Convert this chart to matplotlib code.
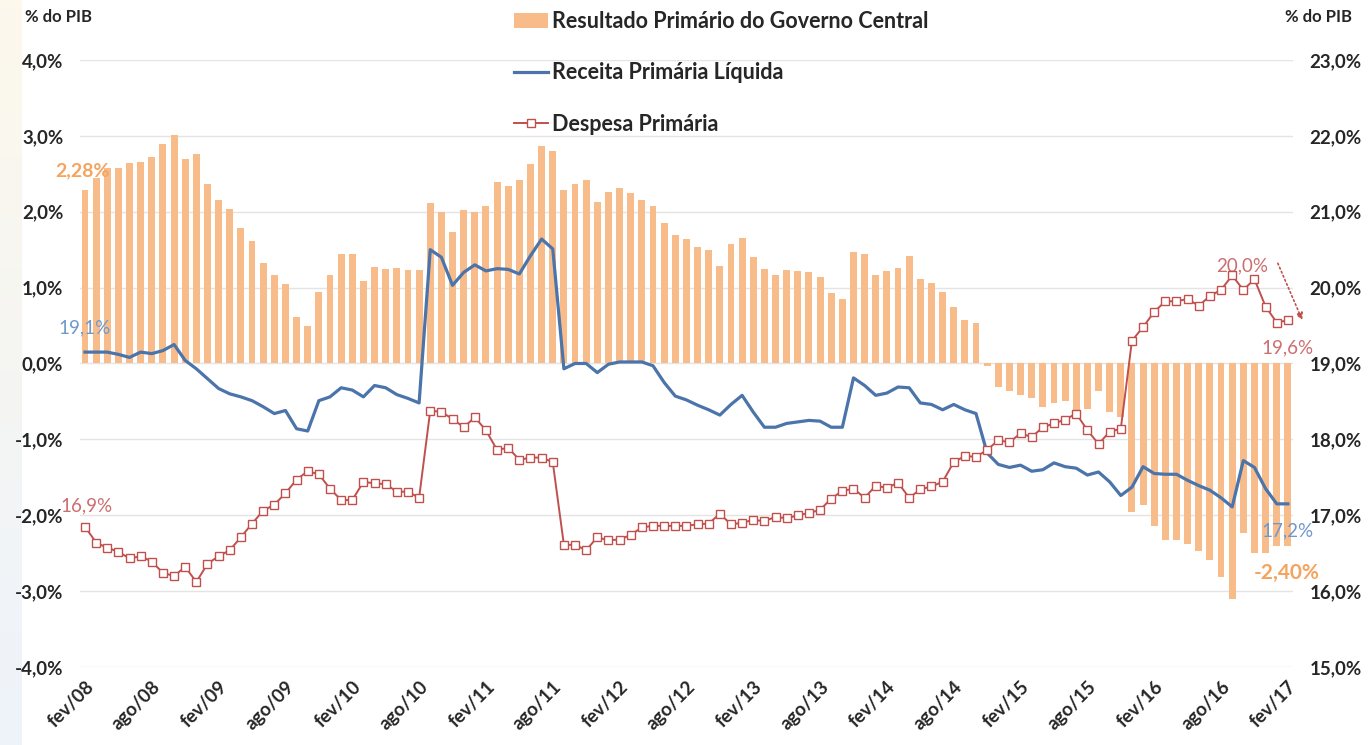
import matplotlib
matplotlib.use('Agg')
import matplotlib.pyplot as plt
import numpy as np

plt.rcParams['font.family'] = ['Lato', 'DejaVu Sans']

# monthly, fev/08 .. fev/17
resultado = [2.28, 2.45, 2.58, 2.57, 2.64, 2.65, 2.72, 2.89, 3.01, 2.70, 2.76, 2.37,
             2.16, 2.03, 1.79, 1.61, 1.33, 1.16, 1.05, 0.61, 0.50, 0.94, 1.16, 1.44,
             1.44, 1.09, 1.27, 1.24, 1.26, 1.23, 1.23, 2.12, 2.00, 1.73, 2.02, 2.00,
             2.08, 2.39, 2.34, 2.42, 2.63, 2.86, 2.80, 2.29, 2.37, 2.42, 2.13, 2.26,
             2.31, 2.25, 2.16, 2.08, 1.85, 1.69, 1.64, 1.54, 1.49, 1.29, 1.57, 1.65,
             1.40, 1.24, 1.16, 1.23, 1.22, 1.20, 1.14, 0.93, 0.85, 1.47, 1.44, 1.17,
             1.22, 1.26, 1.42, 1.12, 1.06, 0.94, 0.75, 0.57, 0.53, -0.03, -0.31, -0.36,
             -0.42, -0.45, -0.57, -0.52, -0.49, -0.62, -0.60, -0.36, -0.64, -0.70, -1.96, -1.87,
             -2.14, -2.33, -2.33, -2.38, -2.47, -2.59, -2.81, -3.11, -2.24, -2.50, -2.50, -2.40,
             -2.40]
receita = [19.15, 19.15, 19.15, 19.12, 19.08, 19.15, 19.13, 19.17, 19.25, 19.04, 18.93, 18.80,
           18.67, 18.60, 18.56, 18.51, 18.43, 18.34, 18.38, 18.14, 18.11, 18.51, 18.56, 18.68,
           18.65, 18.56, 18.71, 18.68, 18.59, 18.54, 18.48, 20.50, 20.40, 20.03, 20.20, 20.30,
           20.22, 20.25, 20.24, 20.18, 20.42, 20.64, 20.51, 18.93, 19.00, 19.00, 18.88, 18.99,
           19.02, 19.02, 19.02, 18.97, 18.75, 18.57, 18.52, 18.45, 18.39, 18.32, 18.46, 18.58,
           18.36, 18.16, 18.16, 18.21, 18.23, 18.25, 18.24, 18.16, 18.16, 18.81, 18.71, 18.58,
           18.61, 18.69, 18.68, 18.48, 18.46, 18.39, 18.46, 18.39, 18.34, 17.82, 17.67, 17.63,
           17.66, 17.58, 17.60, 17.69, 17.64, 17.62, 17.53, 17.57, 17.44, 17.26, 17.37, 17.64,
           17.55, 17.54, 17.54, 17.46, 17.39, 17.33, 17.23, 17.11, 17.72, 17.63, 17.35, 17.15,
           17.15]
despesa = [16.85, 16.64, 16.57, 16.52, 16.43, 16.46, 16.39, 16.24, 16.20, 16.32, 16.12, 16.36,
           16.46, 16.54, 16.71, 16.89, 17.06, 17.14, 17.29, 17.47, 17.58, 17.54, 17.35, 17.20,
           17.20, 17.44, 17.42, 17.41, 17.31, 17.31, 17.23, 18.38, 18.36, 18.27, 18.16, 18.29,
           18.12, 17.86, 17.89, 17.73, 17.76, 17.76, 17.70, 16.61, 16.61, 16.54, 16.71, 16.67,
           16.68, 16.74, 16.84, 16.86, 16.86, 16.86, 16.86, 16.88, 16.89, 17.02, 16.88, 16.90,
           16.94, 16.92, 16.98, 16.96, 17.00, 17.03, 17.07, 17.22, 17.32, 17.35, 17.23, 17.39,
           17.36, 17.43, 17.23, 17.34, 17.38, 17.44, 17.70, 17.78, 17.77, 17.86, 17.99, 17.96,
           18.08, 18.03, 18.16, 18.21, 18.26, 18.34, 18.12, 17.94, 18.10, 18.14, 19.30, 19.48,
           19.68, 19.82, 19.82, 19.85, 19.76, 19.89, 19.97, 20.16, 19.97, 20.11, 19.75, 19.54,
           19.57]
tick_labels = ['fev/08', 'ago/08', 'fev/09', 'ago/09', 'fev/10', 'ago/10', 'fev/11',
               'ago/11', 'fev/12', 'ago/12', 'fev/13', 'ago/13', 'fev/14', 'ago/14',
               'fev/15', 'ago/15', 'fev/16', 'ago/16', 'fev/17']
left_ticks = [-4, -3, -2, -1, 0, 1, 2, 3, 4]
right_ticks = [15, 16, 17, 18, 19, 20, 21, 22, 23]

ORANGE = '#F8BC8A'
BLUE = '#4A74AA'
RED = '#C0504D'
TXT = '#262626'

x = np.arange(len(resultado))

fig = plt.figure(figsize=(13.69, 7.45), dpi=100)
# faint tinted strip on the far left edge
strip = fig.add_axes([0, 0, 0.016, 1])
strip.imshow(np.linspace(0, 1, 100).reshape(-1, 1), aspect='auto',
             cmap=matplotlib.colors.LinearSegmentedColormap.from_list('s', ['#FCF8EC', '#EEF3FA']))
strip.axis('off')

ax = fig.add_axes([0.0584, 0.1047, 0.886, 0.8148])
ax.bar(x, resultado, width=0.62, color=ORANGE, zorder=2,
       label='Resultado Primário do Governo Central')
ax.set_ylim(-4, 4)
ax.set_xlim(-0.45, 108.45)
ax.set_yticks(left_ticks)
ax.set_yticklabels([f'{v:.1f}%'.replace('.', ',') for v in left_ticks])
ax.grid(axis='y', color='#E4E4E4', lw=1, zorder=0)
ax.set_axisbelow(True)
ax.set_xticks(np.arange(0, len(resultado), 6))
ax.set_xticklabels(tick_labels, rotation=45, ha='right', rotation_mode='anchor')

ax2 = ax.twinx()
ax2.plot(x, receita, color=BLUE, lw=2.3, zorder=3, label='Receita Primária Líquida')
ax2.plot(x, despesa, color=RED, lw=1.4, marker='s', ms=5.5, mfc='white', mec=RED,
         mew=1.0, zorder=4, label='Despesa Primária')
ax2.set_ylim(15, 23)
ax2.set_yticks(right_ticks)
ax2.set_yticklabels([f'{v:.1f}%'.replace('.', ',') for v in right_ticks])

for a in (ax, ax2):
    for s in a.spines.values():
        s.set_visible(False)
    a.tick_params(length=0, labelsize=13.5, labelcolor=TXT)
    for t in a.get_xticklabels() + a.get_yticklabels():
        t.set_fontweight('bold')
ax.tick_params(axis='y', pad=12)
ax.tick_params(axis='x', pad=8)
ax2.tick_params(axis='y', pad=12)

# axis titles
fig.text(25 / 1369, 1 - 17 / 745, '% do PIB', fontsize=12, fontweight='bold',
         color=TXT, va='center')
fig.text(1352 / 1369, 1 - 17 / 745, '% do PIB', fontsize=12, fontweight='bold',
         color=TXT, va='center', ha='right')

# value labels
ax.text(-0.2, 2.54, '2,28%', color='#F5A460', fontsize=14, fontweight='bold',
        ha='center', va='center', zorder=5)
ax2.text(0.0, 19.47, '19,1%', color='#6F98CC', fontsize=13.5, ha='center', va='center')
ax2.text(0.1, 17.13, '16,9%', color='#CC6E70', fontsize=13.5, ha='center', va='center')
ax2.text(103.9, 20.28, '20,0%', color='#CC6E70', fontsize=13.5, ha='center', va='center')
ax2.text(108.0, 19.21, '19,6%', color='#CC6E70', fontsize=13.5, ha='center', va='center',
         clip_on=False)
ax2.text(108.0, 16.79, '17,2%', color='#6F98CC', fontsize=13.5, ha='center', va='center',
         clip_on=False)
ax.text(107.9, -2.76, '-2,40%', color='#F5A460', fontsize=15, fontweight='bold',
        ha='center', va='center', clip_on=False)
ax2.annotate('', xy=(109.3, 19.57), xytext=(107.1, 20.32), annotation_clip=False,
             arrowprops=dict(arrowstyle='-|>', color=RED, ls=':', lw=1.2,
                             mutation_scale=10, shrinkA=0, shrinkB=0))

h1, l1 = ax.get_legend_handles_labels()
h2, l2 = ax2.get_legend_handles_labels()
leg = fig.legend(h1 + h2, l1 + l2, loc='upper left', bbox_to_anchor=(505 / 1369, 1 - 2 / 745),
                 frameon=False, labelspacing=1.42, handlelength=1.6, handletextpad=0.2,
                 borderaxespad=0, prop={'weight': 'bold', 'size': 15.5})
for t in leg.get_texts():
    t.set_color(TXT)

fig.savefig('out.png', dpi=100)
